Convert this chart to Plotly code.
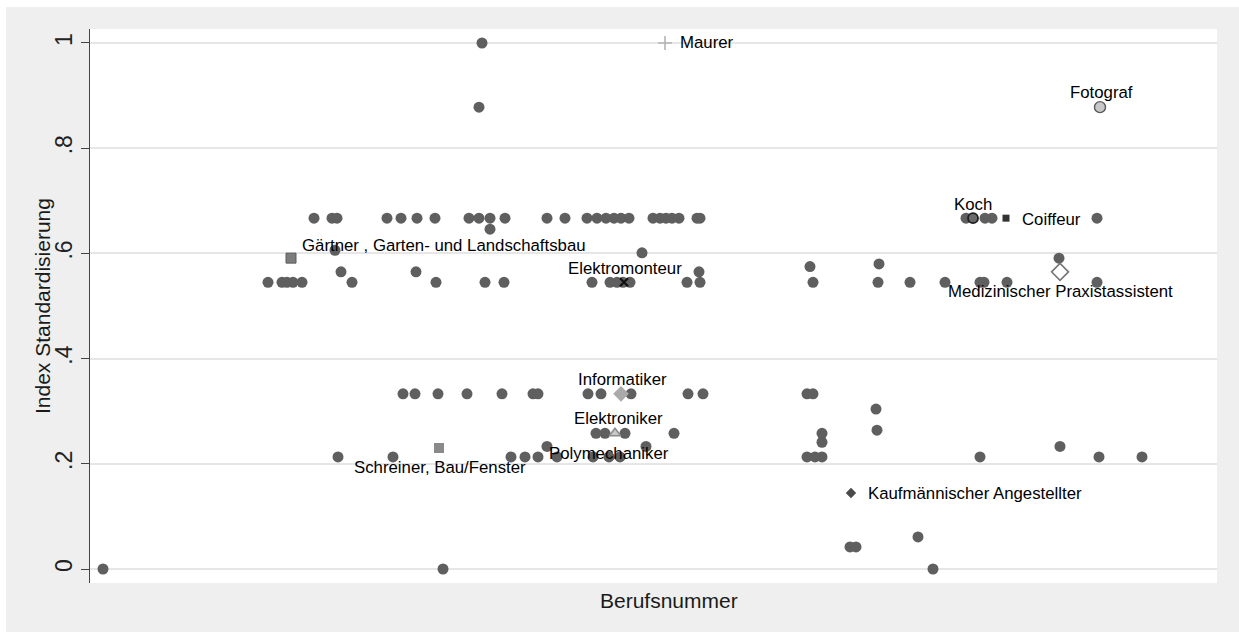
import plotly.graph_objects as go

# Unlabelled occupations: position on the Berufsnummer scale and standardised index
beruf_x = [
    392,
    389,
    224, 242, 247, 297, 311, 327, 345, 379, 389, 400, 415, 457, 475, 497, 507, 516, 524, 531, 539,
    563, 570, 576, 582, 589, 607, 610, 876, 895, 902, 1007,
    400,
    245,
    552,
    969,
    789,
    720,
    251, 326, 609,
    178, 192, 197, 203, 212, 262, 346, 395, 414, 502, 520, 527, 533, 540, 597, 610,
    723, 788, 820, 855, 890, 894, 917, 1007,
    313, 325, 348, 377, 412, 443, 448, 498, 511, 541, 598, 613, 717, 723,
    786,
    787,
    506, 515, 535, 584, 732,
    732,
    457, 556, 970,
    248, 303, 421, 435, 448, 467, 503, 530, 717, 725, 732, 890, 1009, 1052,
    828,
    760, 766,
    13, 353, 843,
]
index_y = [
    1.0,
    0.878,
    0.667, 0.667, 0.667, 0.667, 0.667, 0.667, 0.667, 0.667, 0.667, 0.667, 0.667, 0.667, 0.667,
    0.667, 0.667, 0.667, 0.667, 0.667, 0.667, 0.667, 0.667, 0.667, 0.667, 0.667, 0.667, 0.667,
    0.667, 0.667, 0.667, 0.667,
    0.646,
    0.606,
    0.601,
    0.591,
    0.58,
    0.575,
    0.565, 0.565, 0.565,
    0.545, 0.545, 0.545, 0.545, 0.545, 0.545, 0.545, 0.545, 0.545, 0.545, 0.545, 0.545, 0.545,
    0.545, 0.545, 0.545, 0.545, 0.545, 0.545, 0.545, 0.545, 0.545, 0.545, 0.545,
    0.333, 0.333, 0.333, 0.333, 0.333, 0.333, 0.333, 0.333, 0.333, 0.333, 0.333, 0.333, 0.333, 0.333,
    0.304,
    0.264,
    0.258, 0.258, 0.258, 0.258, 0.258,
    0.241,
    0.233, 0.233, 0.233,
    0.213, 0.213, 0.213, 0.213, 0.213, 0.213, 0.213, 0.213, 0.213, 0.213, 0.213, 0.213, 0.213, 0.213,
    0.061,
    0.042, 0.042,
    0.0, 0.0, 0.0,
]

# Highlighted occupations
beruf_names = [
    "Maurer", "Fotograf", "Koch", "Coiffeur",
    "Gärtner , Garten- und Landschaftsbau", "Elektromonteur",
    "Medizinischer Praxistassistent", "Informatiker", "Elektroniker",
    "Polymechaniker", "Schreiner, Bau/Fenster", "Kaufmännischer Angestellter",
]
beruf_names_x = [575, 1010, 883, 916, 201, 534, 970, 531, 525, 519, 349, 761]
beruf_names_y = [1.0, 0.878, 0.667, 0.667, 0.591, 0.545, 0.565, 0.333, 0.258, 0.213, 0.23, 0.1445]

y_ticks = [0, 0.2, 0.4, 0.6, 0.8, 1]
y_tick_text = ["0", ".2", ".4", ".6", ".8", "1"]

DOT = "#5f5f5f"
FONT = "Liberation Sans, Arial, sans-serif"

# marker: symbol, size, fill, outline colour, outline width
markers = {
    "Maurer": ("cross-thin", 10, "#b4b4b4", "#b4b4b4", 1.6),
    "Fotograf": ("circle", 11, "#c8c8c8", "#5a5a5a", 1.4),
    "Koch": ("circle", 10, "#6a6a6a", "#1e1e1e", 1.8),
    "Coiffeur": ("square", 7, "#333333", "#333333", 0),
    "Gärtner , Garten- und Landschaftsbau": ("square", 10, "#7c7c7c", "#5c5c5c", 1),
    "Elektromonteur": ("x-thin", 8, "#111111", "#111111", 2.2),
    "Medizinischer Praxistassistent": ("diamond-open", 13, "#777777", "#777777", 1.6),
    "Informatiker": ("diamond", 12, "#aaaaaa", "#aaaaaa", 0),
    "Elektroniker": ("triangle-up", 10, "#c8c8c8", "#8a8a8a", 1.5),
    "Polymechaniker": ("circle", 11, DOT, DOT, 0),
    "Schreiner, Bau/Fenster": ("square", 10, "#8a8a8a", "#8a8a8a", 0),
    "Kaufmännischer Angestellter": ("diamond", 8, "#4a4a4a", "#4a4a4a", 0),
}

# label placement relative to the marker: anchor, x offset, y offset (px)
label_place = {
    "Maurer": ("left", 13, 0),
    "Fotograf": ("center", 1, 15),
    "Koch": ("center", 0, 14),
    "Coiffeur": ("left", 14, -1),
    "Gärtner , Garten- und Landschaftsbau": ("left", 9, 13),
    "Elektromonteur": ("center", 1, 14),
    "Medizinischer Praxistassistent": ("center", 0, -20),
    "Informatiker": ("center", 1, 14),
    "Elektroniker": ("center", 3, 15),
    "Polymechaniker": ("center", 0, 3),
    "Schreiner, Bau/Fenster": ("center", 1, -19),
    "Kaufmännischer Angestellter": ("left", 15, 0),
}

fig = go.Figure()

fig.add_trace(go.Scatter(
    x=beruf_x, y=index_y, mode="markers",
    marker=dict(symbol="circle", size=11, color=DOT, line=dict(width=0)),
    showlegend=False, hoverinfo="skip",
))

annotations = []
for name, bx, by in zip(beruf_names, beruf_names_x, beruf_names_y):
    sym, size, fill, edge, lw = markers[name]
    fig.add_trace(go.Scatter(
        x=[bx], y=[by], mode="markers",
        marker=dict(symbol=sym, size=size, color=fill, line=dict(color=edge, width=lw)),
        showlegend=False, hoverinfo="skip",
    ))
    anchor, dx, dy = label_place[name]
    annotations.append(dict(
        x=bx, y=by, xref="x", yref="y", text=name, showarrow=False,
        xanchor=anchor, yanchor="middle", xshift=dx, yshift=dy,
        font=dict(family=FONT, size=16.8, color="#000000"),
    ))

W, H = 1239, 632
L, R, T, B = 90, 22, 29, 49
pw, ph = W - L - R, H - T - B


def px_x(v):
    return (v - L) / pw


def px_y(v):
    return (H - B - v) / ph


# axis titles
annotations.append(dict(
    x=px_x(669), y=px_y(600), xref="paper", yref="paper", text="Berufsnummer",
    showarrow=False, xanchor="center", yanchor="middle",
    font=dict(family=FONT, size=21, color="#1a1a1a"),
))
annotations.append(dict(
    x=px_x(42), y=px_y(306), xref="paper", yref="paper", text="Index Standardisierung",
    showarrow=False, xanchor="center", yanchor="middle", textangle=-90,
    font=dict(family=FONT, size=21, color="#1a1a1a"),
))

fig.update_layout(
    width=W, height=H,
    margin=dict(l=L, r=R, t=T, b=B, pad=0),
    paper_bgcolor="#efefef",
    plot_bgcolor="#ffffff",
    font=dict(family=FONT, color="#1a1a1a"),
    xaxis=dict(
        range=[0, 1127], showticklabels=False, ticks="", showgrid=False,
        zeroline=False, showline=False,
    ),
    yaxis=dict(
        range=[-0.0266, 1.0266], tickvals=y_ticks, ticktext=y_tick_text,
        tickangle=-90, ticks="outside", ticklen=8, tickwidth=1.2, tickcolor="#444444",
        tickfont=dict(size=23, color="#222222"),
        showgrid=True, gridcolor="#e6e6e6", gridwidth=1.6,
        zeroline=False, showline=True, linecolor="#444444", linewidth=1.3,
    ),
    annotations=annotations,
    shapes=[
        dict(type="rect", xref="paper", yref="paper", x0=px_x(0), x1=px_x(6),
             y0=px_y(H), y1=px_y(0), fillcolor="#ffffff", line=dict(width=0), layer="above"),
        dict(type="rect", xref="paper", yref="paper", x0=px_x(0), x1=px_x(W),
             y0=px_y(7), y1=px_y(0), fillcolor="#ffffff", line=dict(width=0), layer="above"),
    ],
)

fig.write_html("out.html")
